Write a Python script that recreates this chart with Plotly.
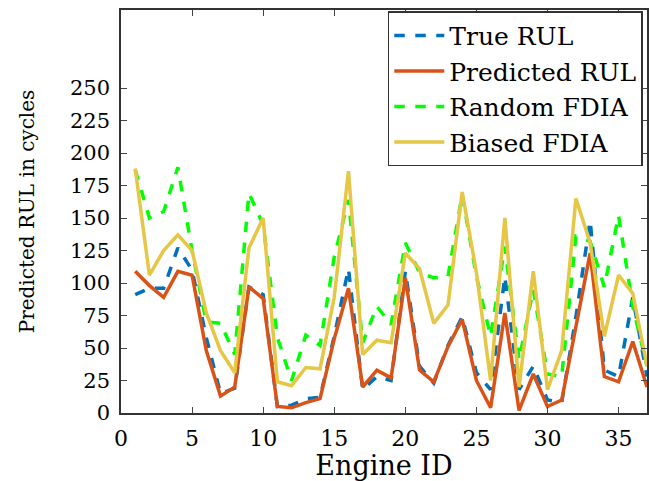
import plotly.graph_objects as go

engine_id = list(range(1, 38))
true_rul = [91, 96, 96, 127, 110, 58, 15, 19, 97, 91, 5, 6, 11, 12, 59, 111, 18, 28, 25, 109, 36, 23, 52, 74,
            31, 18, 105, 18, 36, 10, 8, 74, 148, 33, 28, 89, 28]
pred_rul = [109, 98, 89, 109, 106, 48, 13, 20, 97, 88, 5, 4, 8, 11, 57, 96, 20, 33, 27, 104, 33, 24, 51, 72,
            25, 4, 77, 2, 30, 5, 10, 67, 123, 28, 24, 55, 20]
random_fdia = [187, 150, 155, 189, 125, 70, 69, 45, 169, 145, 58, 25, 60, 52, 120, 164, 54, 82, 68, 131, 108,
               104, 105, 168, 105, 59, 128, 41, 95, 30, 28, 136, 132, 97, 152, 82, 36]
biased_fdia = [188, 106, 125, 137, 125, 77, 48, 31, 127, 150, 24, 21, 35, 34, 89, 186, 45, 56, 54, 123, 111,
               69, 83, 170, 108, 25, 150, 20, 109, 18, 48, 165, 131, 59, 106, 92, 36]
y_ticks = [0, 25, 50, 75, 100, 125, 150, 175, 200, 225, 250]
x_ticks = [0, 5, 10, 15, 20, 25, 30, 35]

font_family = "DejaVu Serif"

fig = go.Figure()
fig.add_trace(go.Scatter(x=engine_id, y=true_rul, mode="lines", name="True RUL",
                         line=dict(color="#0072BD", width=3.5, dash="dash")))
fig.add_trace(go.Scatter(x=engine_id, y=pred_rul, mode="lines", name="Predicted RUL",
                         line=dict(color="#D95319", width=3.5)))
fig.add_trace(go.Scatter(x=engine_id, y=random_fdia, mode="lines", name="Random FDIA",
                         line=dict(color="#00FF00", width=3.5, dash="dash")))
fig.add_trace(go.Scatter(x=engine_id, y=biased_fdia, mode="lines", name="Biased FDIA",
                         line=dict(color="#E5C645", width=3.5)))

fig.update_layout(
    width=649, height=481,
    margin=dict(l=121, r=2, t=10, b=68, autoexpand=False),
    paper_bgcolor="white", plot_bgcolor="white",
    font=dict(family=font_family, color="black", size=20),
    legend=dict(x=0.992, y=0.997, xanchor="right", yanchor="top",
                bordercolor="#333333", borderwidth=1.5, bgcolor="white",
                font=dict(size=25, family=font_family), tracegroupgap=0,
                itemwidth=50),
    showlegend=True,
)
fig.update_xaxes(range=[0, 37], tickvals=x_ticks, ticks="inside", ticklen=6,
                 showline=True, linecolor="#333333", linewidth=1.5, mirror="ticks",
                 showgrid=False, zeroline=False, automargin=False,
                 ticklabelstandoff=5,
                 title=dict(text="Engine ID", font=dict(size=27), standoff=6),
                 tickfont=dict(size=22))
fig.update_yaxes(range=[0, 310], tickvals=y_ticks, ticks="inside", ticklen=6,
                 showline=True, linecolor="#333333", linewidth=1.5, mirror="ticks",
                 showgrid=False, zeroline=False, automargin=False,
                 ticklabelstandoff=5,
                 title=dict(text="Predicted RUL in cycles", font=dict(size=20), standoff=30),
                 tickfont=dict(size=21))

fig.write_html("out.html", config={"displayModeBar": False},
               post_script="document.body.style.margin='0';")
